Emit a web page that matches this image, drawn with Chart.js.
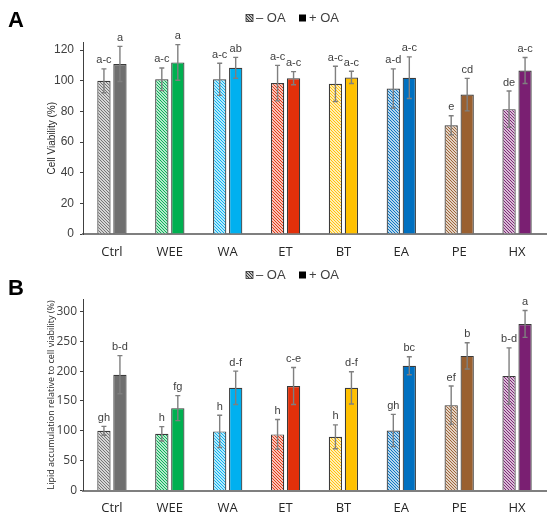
<!DOCTYPE html>
<html>
<head>
<meta charset="utf-8">
<script src="https://cdn.jsdelivr.net/npm/chart.js@4.4.1/dist/chart.umd.min.js"></script>
<style>
body { margin: 0; background: #fff; }
.panel { position: absolute; left: 0; width: 550px; }
#boxA { top: 0; height: 262px; }
#boxB { top: 257px; height: 263px; }
</style>
</head>
<body>
<div class="panel" id="boxA"><canvas id="chartA"></canvas></div>
<div class="panel" id="boxB"><canvas id="chartB"></canvas></div>
<script>
const groups = ['Ctrl', 'WEE', 'WA', 'ET', 'BT', 'EA', 'PE', 'HX'];
const colors = ['#6f6f6f', '#00b050', '#00b0f0', '#e2300a', '#ffc000', '#0070c0', '#9a6030', '#7a1f72'];

// A: cell viability (%)
const viabNoOA = [100, 101, 101, 98.5, 98, 95, 71, 81.5];
const viabNoOAErr = [7.8, 7.4, 10.5, 11.6, 11.5, 12.8, 6.2, 11.8];
const viabOA = [111, 112, 108.5, 101.7, 102.2, 102, 91, 106.7];
const viabOAErr = [11.5, 11.6, 6.8, 4.3, 4, 13.6, 10.6, 8.5];
const viabNoOALetters = ['a-c', 'a-c', 'a-c', 'a-c', 'a-c', 'a-d', 'e', 'de'];
const viabOALetters = ['a', 'a', 'ab', 'a-c', 'a-c', 'a-c', 'cd', 'a-c'];
const viabTicks = [0, 20, 40, 60, 80, 100, 120];

// B: lipid accumulation relative to cell viability (%)
const lipidNoOA = [100, 95, 99, 94, 90, 100.5, 143, 192];
const lipidNoOAErr = [7.5, 12, 27, 25, 20, 27, 32, 47];
const lipidOA = [194, 138, 172, 175, 172, 209, 225.5, 279];
const lipidOAErr = [32, 21, 28, 31, 27, 15, 22, 22.5];
const lipidNoOALetters = ['gh', 'h', 'h', 'h', 'h', 'gh', 'ef', 'b-d'];
const lipidOALetters = ['b-d', 'fg', 'd-f', 'c-e', 'd-f', 'bc', 'b', 'a'];
const lipidTicks = [0, 50, 100, 150, 200, 250, 300];

const legendLabels = ['\u2013 OA', '+ OA'];

function hatch(color) {
    const c = document.createElement('canvas');
    c.width = 3; c.height = 3;
    const g = c.getContext('2d');
    g.fillStyle = '#fff';
    g.fillRect(0, 0, 3, 3);
    g.strokeStyle = color;
    g.lineWidth = 1.1;
    g.beginPath();
    g.moveTo(0, 0); g.lineTo(3, 3);
    g.moveTo(-1, 2); g.lineTo(1, 4);
    g.moveTo(2, -1); g.lineTo(4, 1);
    g.stroke();
    return g.createPattern(c, 'repeat');
}

const errorBars = {
    id: 'errorBars',
    afterDatasetsDraw(chart, args, opts) {
        const ctx = chart.ctx;
        const y = chart.scales.y;
        chart.data.datasets.forEach((ds, di) => {
            chart.getDatasetMeta(di).data.forEach((bar, i) => {
                const top = y.getPixelForValue(ds.data[i] + ds.errors[i]);
                const bot = y.getPixelForValue(ds.data[i] - ds.errors[i]);
                ctx.save();
                ctx.strokeStyle = '#7f7f7f';
                ctx.lineWidth = 1.4;
                ctx.beginPath();
                ctx.moveTo(bar.x, top); ctx.lineTo(bar.x, bot);
                ctx.moveTo(bar.x - 2.5, top); ctx.lineTo(bar.x + 2.5, top);
                ctx.moveTo(bar.x - 2.5, bot); ctx.lineTo(bar.x + 2.5, bot);
                ctx.stroke();
                ctx.fillStyle = '#404040';
                ctx.font = opts.font;
                ctx.textAlign = 'center';
                ctx.textBaseline = 'bottom';
                ctx.fillText(ds.letters[i], bar.x, top - 3);
                ctx.restore();
            });
        });
    }
};

// panel letter and the small legend at the top
const header = {
    id: 'header',
    afterDraw(chart, args, opts) {
        const ctx = chart.ctx;
        ctx.save();
        ctx.fillStyle = '#000';
        ctx.font = 'bold 22px "Liberation Sans"';
        ctx.textBaseline = 'alphabetic';
        ctx.fillText(opts.letter, 8, opts.letterY);
        ctx.font = '13px "Liberation Sans"';
        ctx.textBaseline = 'middle';
        ctx.fillStyle = hatch('#303030');
        ctx.fillRect(246, 14.5, 7, 7);
        ctx.strokeStyle = '#303030';
        ctx.lineWidth = 0.8;
        ctx.strokeRect(246, 14.5, 7, 7);
        ctx.fillStyle = '#000';
        ctx.fillRect(299, 14.5, 7, 7);
        ctx.fillStyle = '#404040';
        ctx.fillText(legendLabels[0], 256, 18.5);
        ctx.fillText(legendLabels[1], 309, 18.5);
        ctx.restore();
    }
};

function makeChart(id, cfg) {
    return new Chart(document.getElementById(id), {
        type: 'bar',
        data: {
            labels: groups,
            datasets: [
                {
                    label: legendLabels[0],
                    data: cfg.noOA,
                    errors: cfg.noOAErr,
                    letters: cfg.noOALetters,
                    backgroundColor: colors.map(hatch),
                    borderColor: '#3a3a3a',
                    borderWidth: 1.2,
                },
                {
                    label: legendLabels[1],
                    data: cfg.oa,
                    errors: cfg.oaErr,
                    letters: cfg.oaLetters,
                    backgroundColor: colors,
                    borderColor: '#3a3a3a',
                    borderWidth: 1.2,
                },
            ],
        },
        options: {
            responsive: true,
            maintainAspectRatio: false,
            animation: false,
            barPercentage: 0.83,
            categoryPercentage: 0.553,
            layout: { padding: { top: 42.5, left: 40, right: 4, bottom: 0 } },
            plugins: {
                legend: { display: false },
                tooltip: { enabled: false },
                errorBars: { font: '11px "Liberation Sans"' },
                header: { letter: cfg.letter, letterY: cfg.letterY },
            },
            scales: {
                x: {
                    grid: { display: false, drawTicks: false },
                    border: { color: '#7f7f7f', width: 2 },
                    ticks: { color: '#262626', font: { family: 'Open Sans', size: 13 }, padding: 10 },
                    afterFit: (ax) => { ax.height = cfg.xHeight; },
                },
                y: {
                    min: 0,
                    max: cfg.max,
                    afterBuildTicks: (ax) => { ax.ticks = cfg.ticks.map(v => ({ value: v })); },
                    ticks: { color: '#404040', font: { family: cfg.tickFont, size: 12 }, padding: cfg.tickPad },
                    grid: { drawOnChartArea: false, tickLength: 3, color: '#404040' },
                    border: { color: '#404040', width: 1 },
                    title: {
                        display: true,
                        text: cfg.title,
                        color: '#262626',
                        font: { family: cfg.titleFont, size: cfg.titleSize },
                        padding: { top: 6, bottom: 0 },
                    },
                    afterFit: (ax) => { ax.width = 43; },
                },
            },
        },
        plugins: [errorBars, header],
    });
}

makeChart('chartA', {
    noOA: viabNoOA, noOAErr: viabNoOAErr, noOALetters: viabNoOALetters,
    oa: viabOA, oaErr: viabOAErr, oaLetters: viabOALetters,
    max: 125, ticks: viabTicks, title: 'Cell Viability (%)',
    tickFont: 'Liberation Sans', tickPad: 6, titleFont: 'Liberation Sans', titleSize: 10,
    xHeight: 28, letter: 'A', letterY: 27,
});

makeChart('chartB', {
    noOA: lipidNoOA, noOAErr: lipidNoOAErr, noOALetters: lipidNoOALetters,
    oa: lipidOA, oaErr: lipidOAErr, oaLetters: lipidOALetters,
    max: 320, ticks: lipidTicks, title: 'Lipid accumulation relative to cell viability (%)',
    tickFont: 'Open Sans', tickPad: 3, titleFont: 'Open Sans', titleSize: 9,
    xHeight: 29.5, letter: 'B', letterY: 38,
});
</script>
</body>
</html>
